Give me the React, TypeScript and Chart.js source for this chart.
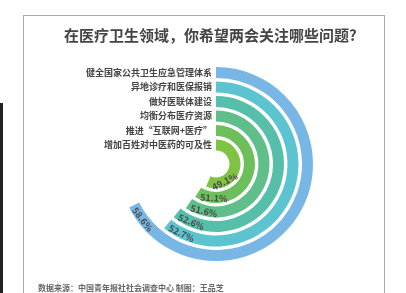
import React, { useEffect, useRef } from "react";
import { Chart, registerables } from "chart.js";

Chart.register(...registerables);

const title = "在医疗卫生领域，你希望两会关注哪些问题?";
const source = "数据来源：中国青年报社社会调查中心 制图：王品芝";
const categories = [
  "健全国家公共卫生应急管理体系",
  "异地诊疗和医保报销",
  "做好医联体建设",
  "均衡分布医疗资源",
  "推进“互联网+医疗”",
  "增加百姓对中医药的可及性",
];
const values = [58.6, 52.7, 52.6, 51.6, 51.1, 49.1];
const colors = ["#78b7e5", "#5cc3d1", "#56bfaa", "#5fbe8a", "#6dbf5c", "#80c342"];

// value reached at 270° of sweep
const SCALE_MAX = 65;
const SWEEP = 270;
const FULL = (SCALE_MAX * 360) / SWEEP;

const W = 406;
const H = 293;
const CX = 216;
const CY = 164;
const R = 97;
const RING = 11;
const GAP = 3.5;
const FONT = '"Noto Sans CJK SC", "Noto Sans", sans-serif';

export default function App() {
  const ref = useRef<HTMLCanvasElement | null>(null);

  useEffect(() => {
    document.body.style.margin = "0";
    const canvas = ref.current;
    if (!canvas) return;
    const datasets: any[] = [];
    values.forEach((v, i) => {
      datasets.push({
        data: [v, FULL - v],
        backgroundColor: [colors[i], "rgba(0,0,0,0)"],
        borderWidth: 0,
        weight: RING,
        isRing: true,
      });
      if (i < values.length - 1) {
        datasets.push({
          data: [1],
          backgroundColor: ["rgba(0,0,0,0)"],
          borderWidth: 0,
          weight: GAP,
        });
      }
    });

    const labelPlugin = {
      id: "pctLabels",
      afterDatasetsDraw(chart: any) {
        const ctx = chart.ctx;
        ctx.save();
        ctx.font = `bold 9px ${FONT}`;
        ctx.fillStyle = "#4a4a4a";
        ctx.textAlign = "center";
        ctx.textBaseline = "middle";
        let ri = 0;
        chart.data.datasets.forEach((ds: any, di: number) => {
          if (!ds.isRing) return;
          const arc = chart.getDatasetMeta(di).data[0] as any;
          const r = (arc.innerRadius + arc.outerRadius) / 2;
          const text = values[ri].toFixed(1) + "%";
          const w = ctx.measureText(text).width;
          const a = arc.endAngle - (w / 2 + 3) / r;
          const x = arc.x + r * Math.cos(a);
          const y = arc.y + r * Math.sin(a);
          ctx.save();
          ctx.translate(x, y);
          ctx.rotate(a - Math.PI / 2);
          ctx.fillText(text, 0, 0.5);
          ctx.restore();
          ri++;
        });
        ctx.restore();
      },
    };

    const chart = new Chart(canvas, {
      type: "doughnut",
      data: { labels: ["v", "rest"], datasets },
      options: {
        responsive: false,
        animation: false,
        events: [],
        cutout: R - (values.length * RING + (values.length - 1) * GAP),
        rotation: 0,
        circumference: 360,
        layout: {
          padding: {
            left: CX - R,
            top: CY - R,
            right: W - (CX + R),
            bottom: H - (CY + R),
          },
        },
        plugins: {
          legend: { display: false },
          tooltip: { enabled: false },
        },
      } as any,
      plugins: [labelPlugin],
    });
    return () => chart.destroy();
  }, []);

  return (
    <div
      style={{
        position: "fixed",
        left: 0,
        top: 0,
        width: W,
        height: H,
        overflow: "hidden",
        background: "#fff",
        fontFamily: FONT,
      }}
    >
      <div
        style={{
          position: "absolute",
          left: 0,
          top: 103,
          width: 3,
          height: 200,
          background: "#222",
        }}
      />
      <div
        style={{
          position: "absolute",
          left: 23,
          top: 15,
          width: 362,
          height: 320,
          border: "1px solid #aaa",
          boxSizing: "border-box",
        }}
      />
      <canvas
        ref={ref}
        width={W}
        height={H}
        style={{ position: "absolute", left: 0, top: 0, width: W, height: H }}
      />
      <div
        style={{
          position: "absolute",
          left: 64,
          top: 25,
          fontSize: 15,
          lineHeight: "20px",
          fontWeight: 700,
          color: "#444",
          whiteSpace: "nowrap",
        }}
      >
        {title}
      </div>
      {categories.map((c, i) => {
        const yc = CY - (R - i * (RING + GAP) - RING / 2);
        return (
          <div
            key={c}
            style={{
              position: "absolute",
              right: W - 212,
              top: yc - 6,
              fontSize: 9,
              lineHeight: "12px",
              fontWeight: 700,
              color: "#444",
              whiteSpace: "nowrap",
            }}
          >
            {c}
          </div>
        );
      })}
      <div
        style={{
          position: "absolute",
          left: 38,
          top: 282,
          fontSize: 8,
          lineHeight: "12px",
          fontWeight: 700,
          color: "#666",
          whiteSpace: "nowrap",
        }}
      >
        {source}
      </div>
    </div>
  );
}
